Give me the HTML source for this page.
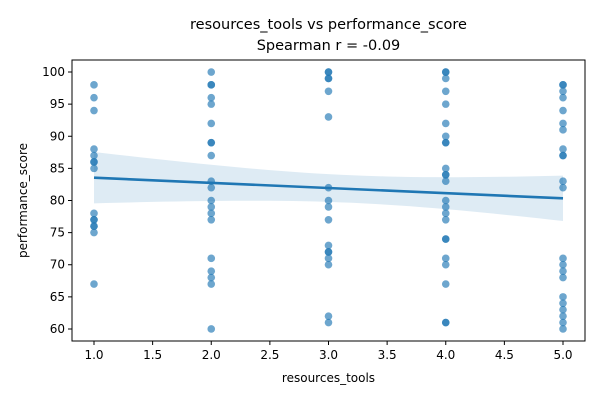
<!DOCTYPE html>
<html><head><meta charset="utf-8"><style>
body{margin:0;background:#fff;font-family:"Liberation Sans","DejaVu Sans",sans-serif;}
svg text{font-family:"DejaVu Sans","Liberation Sans",sans-serif;fill:#000;}
</style></head><body>
<svg id="c" width="600" height="400"></svg>
<script>
const categories=[1,2,3,4,5];
const col1=[98,96,94,88,87,86,86,85,78,77,77,76,76,75,67];
const col2=[100,98,98,96,95,92,89,89,87,83,82,80,79,78,77,71,69,68,67,60];
const col3=[100,100,99,99,97,93,82,80,79,77,73,72,72,71,70,62,61];
const col4=[100,100,99,97,95,92,90,89,89,85,84,84,83,80,79,78,77,74,74,71,70,67,61,61];
const col5=[98,98,97,96,94,92,91,88,87,87,83,82,71,70,69,68,65,64,63,62,61,60];
const xTicks=[1.0,1.5,2.0,2.5,3.0,3.5,4.0,4.5,5.0];
const yTicks=[60,65,70,75,80,85,90,95,100];
const cols=[col1,col2,col3,col4,col5];
const L=72,R=585,T=60,B=341;
const xmin=0.8124,xmax=5.1876,ymin=58.13,ymax=101.87;
const X=v=>L+(v-xmin)/(xmax-xmin)*(R-L);
const Y=v=>B-(v-ymin)/(ymax-ymin)*(B-T);
const svg=document.getElementById('c');const NS='http://www.w3.org/2000/svg';
function mk(t,a,p){const e=document.createElementNS(NS,t);for(const k in a)e.setAttribute(k,a[k]);(p||svg).appendChild(e);return e;}
const xs=[],ys=[];cols.forEach((c,i)=>c.forEach(v=>{xs.push(categories[i]);ys.push(v);}));
const n=xs.length,mx=xs.reduce((a,b)=>a+b)/n,my=ys.reduce((a,b)=>a+b)/n;
let sxx=0,sxy=0;for(let i=0;i<n;i++){sxx+=(xs[i]-mx)**2;sxy+=(xs[i]-mx)*(ys[i]-my);}
const b1=sxy/sxx,b0=my-b1*mx;let sse=0;for(let i=0;i<n;i++)sse+=(ys[i]-b0-b1*xs[i])**2;
const s=Math.sqrt(sse/(n-2));
let up=[],lo=[];for(let k=0;k<=40;k++){const x=1+4*k/40;const yh=b0+b1*x;const se=1.75*s*Math.sqrt(1/n+(x-mx)**2/sxx);up.push(X(x)+','+Y(yh+se));lo.unshift(X(x)+','+Y(yh-se));}
const band=mk('polygon',{points:up.concat(lo).join(' '),fill:'#1f77b4','fill-opacity':0.15});


xs.forEach((x,i)=>{const p=mk('circle',{cx:X(x),cy:Y(ys[i]),r:3.8,fill:'#1f77b4','fill-opacity':0.65});

});
const ln=mk('line',{x1:X(1),y1:Y(b0+b1),x2:X(5),y2:Y(b0+5*b1),stroke:'#1f77b4','stroke-width':2.6});


const fr=mk('rect',{x:L,y:T,width:R-L,height:B-T,fill:'none',stroke:'#000','stroke-width':1});


xTicks.forEach(t=>{mk('line',{x1:X(t),x2:X(t),y1:B,y2:B+4,stroke:'#000'});const tx=mk('text',{x:X(t),y:B+18,'text-anchor':'middle','font-size':12});tx.textContent=t.toFixed(1);

});
yTicks.forEach(t=>{mk('line',{x1:L-4,x2:L,y1:Y(t),y2:Y(t),stroke:'#000'});const tx=mk('text',{x:L-7,y:Y(t)+4,'text-anchor':'end','font-size':12});tx.textContent=t;

});
let t=mk('text',{x:(L+R)/2,y:382,'text-anchor':'middle','font-size':12});t.textContent='resources_tools';


t=mk('text',{x:27,y:(T+B)/2,'text-anchor':'middle','font-size':12,transform:`rotate(-90 27 ${(T+B)/2})`});t.textContent='performance_score';


t=mk('text',{x:(L+R)/2,y:29,'text-anchor':'middle','font-size':14.5});t.textContent='resources_tools vs performance_score';


t=mk('text',{x:(L+R)/2,y:50,'text-anchor':'middle','font-size':14.5});t.textContent='Spearman r = -0.09';


</script>
</body></html>
